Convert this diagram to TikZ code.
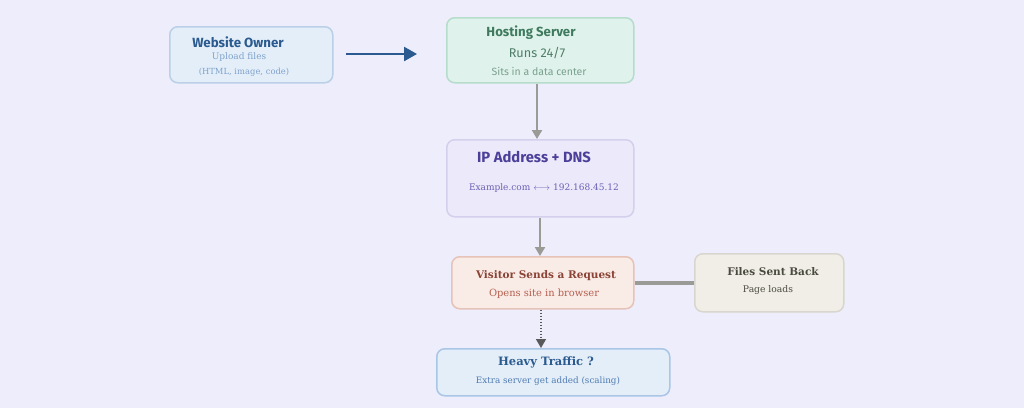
\documentclass[tikz,border=0pt]{standalone}
\usepackage{fontspec}
\setmainfont{DejaVu Serif}
\newfontfamily\fira{Fira Sans}
\usetikzlibrary{arrows.meta}
\definecolor{bg}{HTML}{EEEDFB}
\definecolor{blueF}{HTML}{E3EEF9}
\definecolor{blueD}{HTML}{BBD0E6}
\definecolor{blueT}{HTML}{2A5A8F}
\definecolor{blueS}{HTML}{7FA2CC}
\definecolor{greenF}{HTML}{DFF3EC}
\definecolor{greenD}{HTML}{B6DCCB}
\definecolor{greenT}{HTML}{3F7A5E}
\definecolor{greenS}{HTML}{4F7D68}
\definecolor{greenU}{HTML}{7AA08E}
\definecolor{purF}{HTML}{ECEAFA}
\definecolor{purD}{HTML}{D3CFEC}
\definecolor{purT}{HTML}{4B3F9A}
\definecolor{purS}{HTML}{6A5FB5}
\definecolor{redF}{HTML}{F9EBE6}
\definecolor{redD}{HTML}{E6C3B7}
\definecolor{redT}{HTML}{8A4335}
\definecolor{redS}{HTML}{B5604E}
\definecolor{grayF}{HTML}{F0EEE6}
\definecolor{grayD}{HTML}{D8D6CE}
\definecolor{grayT}{HTML}{4A4A40}
\definecolor{heavyD}{HTML}{A9C6E6}
\definecolor{heavyS}{HTML}{4F7AB0}
\definecolor{conn}{HTML}{9A9A96}
\tikzset{
  box/.style={draw, rounded corners=8pt, line width=1.5pt, anchor=north west, inner sep=0pt},
  lbl/.style={inner sep=0pt, anchor=center},
  gconn/.style={draw=conn, line width=2.3pt, -{Triangle[length=9pt,width=10pt]}},
}
\begin{document}
\begin{tikzpicture}[x=1pt,y=-1pt]
\useasboundingbox[fill=bg] (0,0) rectangle (1024,408);
% boxes
\node[box, fill=blueF, draw=blueD, minimum width=163pt, minimum height=56pt] (owner) at (169,26) {};
\node[box, fill=greenF, draw=greenD, minimum width=187pt, minimum height=65pt] (host) at (446,17) {};
\node[box, fill=purF, draw=purD, minimum width=187pt, minimum height=77pt] (ip) at (446,139) {};
\node[box, fill=redF, draw=redD, minimum width=182pt, minimum height=52pt] (visit) at (451,256) {};
\node[box, fill=grayF, draw=grayD, minimum width=149pt, minimum height=58pt] (files) at (694,253) {};
\node[box, fill=blueF, draw=heavyD, minimum width=233pt, minimum height=47pt] (heavy) at (436,348) {};
% texts
\node[lbl, text=blueT, font=\fira\bfseries\fontsize{13.3}{15}\selectfont] (t1) at (238,42) {Website Owner};
\node[lbl, text=blueS, font=\fontsize{9}{10}\selectfont] (t2) at (239,57) {Upload files};
\node[lbl, text=blueS, font=\fontsize{8.4}{10}\selectfont] (t3) at (244,72) {(HTML, image, code)};
\node[lbl, text=greenT, font=\fira\bfseries\fontsize{13.2}{15}\selectfont] (t4) at (531,33) {Hosting Server};
\node[lbl, text=greenS, font=\fira\fontsize{12.7}{14}\selectfont] (t5) at (537,53) {Runs 24/7};
\node[lbl, text=greenU, font=\fira\fontsize{10.5}{12}\selectfont] (t6) at (539,71) {Sits in a data center};
\node[lbl, text=purT, font=\fira\bfseries\fontsize{14.8}{16}\selectfont] (t7) at (534,157) {IP Address + DNS};
\node[lbl, text=purS, font=\fontsize{9}{10}\selectfont] (t8) at (544,188) {Example.com $\longleftrightarrow$ 192.168.45.12};
\node[lbl, text=redT, font=\bfseries\fontsize{10.5}{12}\selectfont] (t9) at (546,276) {Visitor Sends a Request};
\node[lbl, text=redS, font=\fontsize{9.9}{11}\selectfont] (t10) at (544,294) {Opens site in browser};
\node[lbl, text=grayT, font=\bfseries\fontsize{10.5}{12}\selectfont] (t11) at (773,272) {Files Sent Back};
\node[lbl, text=grayT, font=\fontsize{9.2}{10}\selectfont] (t12) at (768,290) {Page loads};
\node[lbl, text=blueT, font=\bfseries\fontsize{11.5}{13}\selectfont] (t13) at (546,362) {Heavy Traffic ?};
\node[lbl, text=heavyS, font=\fontsize{8.8}{10}\selectfont] (t14) at (548,381) {Extra server get added (scaling)};
% connectors
\coordinate (a1) at (346,54);
\coordinate (a2) at (417,54);
\draw[draw=blueT, line width=2.5pt, -{Triangle[length=13pt,width=14pt]}] (a1) -- (a2);
\draw[gconn] (host.south -| 537,0) -- (ip.north -| 537,0);
\draw[gconn] (ip.south -| 540,0) -- (visit.north -| 540,0);
\draw[draw=conn, line width=3.5pt] (visit.east) -- (files.west |- visit.east);
\draw[draw=black!65, line width=1.4pt, dash pattern=on 1.5pt off 1.5pt, -{Triangle[length=9pt,width=10pt]}] (visit.south -| 541,0) -- (heavy.north -| 541,0);
\end{tikzpicture}
\end{document}
